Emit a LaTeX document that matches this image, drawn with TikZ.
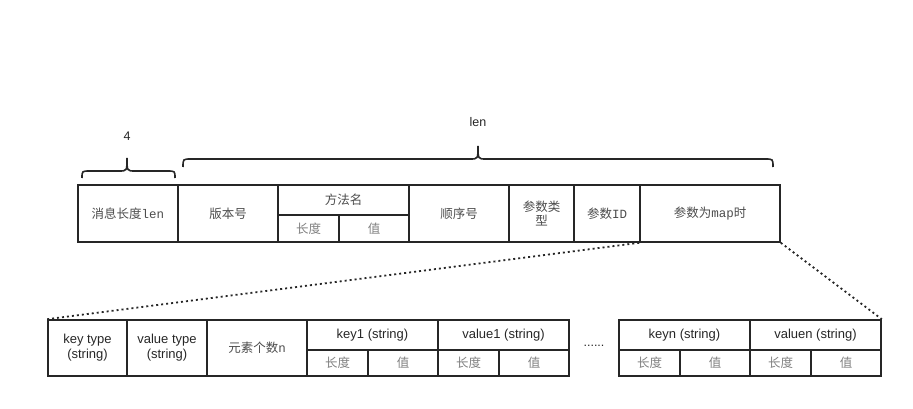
\documentclass[tikz,border=0pt]{standalone}
\usepackage{fontspec}
\setmainfont{Liberation Sans}
\setmonofont{Liberation Mono}
\newfontfamily\cjk{Noto Sans CJK SC}
\begin{document}
\begin{tikzpicture}[x=1pt,y=-1pt,
  cellbox/.style={draw=black!85, line width=1.6pt, inner sep=0pt, align=center,
    font=\fontsize{12.5}{14}\selectfont},
  cn/.style={text=black!70},
  cnsub/.style={text=black!50},
  en/.style={text=black!85, font=\fontsize{13}{15}\selectfont},
  bracestyle/.style={draw=black!85, line width=1.6pt},
  link/.style={draw=black!85, line width=1.8pt, dash pattern=on 2pt off 3pt},
  lbl/.style={font=\fontsize{12.5}{14}\selectfont, text=black!85}]
\useasboundingbox (0,0) rectangle (913,409);
% top row
\node[cellbox,cn,minimum width=100pt,minimum height=57pt] (msglen) at (128,213.5) {\cjk 消息长度\ttfamily len};
\node[cellbox,cn,minimum width=100pt,minimum height=57pt] (ver) at (228,213.5) {\cjk 版本号};
\node[cellbox,cn,minimum width=131pt,minimum height=30pt] (method) at (343.5,200) {\cjk 方法名};
\node[cellbox,cnsub,minimum width=61pt,minimum height=27pt] (mlen) at (308.5,228.5) {\cjk 长度};
\node[cellbox,cnsub,minimum width=70pt,minimum height=27pt] (mval) at (374,228.5) {\cjk 值};
\node[cellbox,cn,minimum width=100pt,minimum height=57pt] (seq) at (459,213.5) {\cjk 顺序号};
\node[cellbox,cn,minimum width=65pt,minimum height=57pt] (ptype) at (541.5,213.5) {\cjk 参数类\\\cjk 型};
\node[cellbox,cn,minimum width=66pt,minimum height=57pt] (pid) at (607,213.5) {\cjk 参数\ttfamily ID};
\node[cellbox,cn,minimum width=140pt,minimum height=57pt] (map) at (710,213.5) {\cjk 参数为\ttfamily map\cjk 时};
% braces
\draw[bracestyle] (82,178) .. controls (82,171) .. (90,171) -- (119,171) .. controls (127,171) .. (127,158)
  .. controls (127,171) .. (135,171) -- (167,171) .. controls (175,171) .. (175,178);
\draw[bracestyle] (183,167) .. controls (183,159) .. (191,159) -- (470,159) .. controls (478,159) .. (478,146)
  .. controls (478,159) .. (486,159) -- (765,159) .. controls (773,159) .. (773,167);
\node[lbl] (four) at (127,136) {4};
\node[lbl] (lenlbl) at (478,122) {len};
% bottom row
\node[cellbox,en,minimum width=79pt,minimum height=56pt] (kt) at (87.5,348) {key type\\(string)};
\node[cellbox,en,minimum width=80pt,minimum height=56pt] (vt) at (167,348) {value type\\(string)};
\node[cellbox,cn,minimum width=100pt,minimum height=56pt] (cnt) at (257,348) {\cjk 元素个数\ttfamily n};
\node[cellbox,en,minimum width=131pt,minimum height=30pt] (k1) at (372.5,335) {key1 (string)};
\node[cellbox,en,minimum width=131pt,minimum height=30pt] (v1) at (503.5,335) {value1 (string)};
\node[cellbox,cnsub,minimum width=61pt,minimum height=26pt] (k1l) at (337.5,363) {\cjk 长度};
\node[cellbox,cnsub,minimum width=70pt,minimum height=26pt] (k1v) at (403,363) {\cjk 值};
\node[cellbox,cnsub,minimum width=61pt,minimum height=26pt] (v1l) at (468.5,363) {\cjk 长度};
\node[cellbox,cnsub,minimum width=70pt,minimum height=26pt] (v1v) at (534,363) {\cjk 值};
\node[lbl] (dots) at (594,346) {......};
\node[cellbox,en,minimum width=131pt,minimum height=30pt] (kn) at (684.5,335) {keyn (string)};
\node[cellbox,en,minimum width=131pt,minimum height=30pt] (vn) at (815.5,335) {valuen (string)};
\node[cellbox,cnsub,minimum width=61pt,minimum height=26pt] (knl) at (649.5,363) {\cjk 长度};
\node[cellbox,cnsub,minimum width=70pt,minimum height=26pt] (knv) at (715,363) {\cjk 值};
\node[cellbox,cnsub,minimum width=61pt,minimum height=26pt] (vnl) at (780.5,363) {\cjk 长度};
\node[cellbox,cnsub,minimum width=70pt,minimum height=26pt] (vnv) at (846,363) {\cjk 值};
% links
\draw[link] (map.south west) -- (kt.north west);
\draw[link] (map.south east) -- (vn.north east);
\end{tikzpicture}
\end{document}
